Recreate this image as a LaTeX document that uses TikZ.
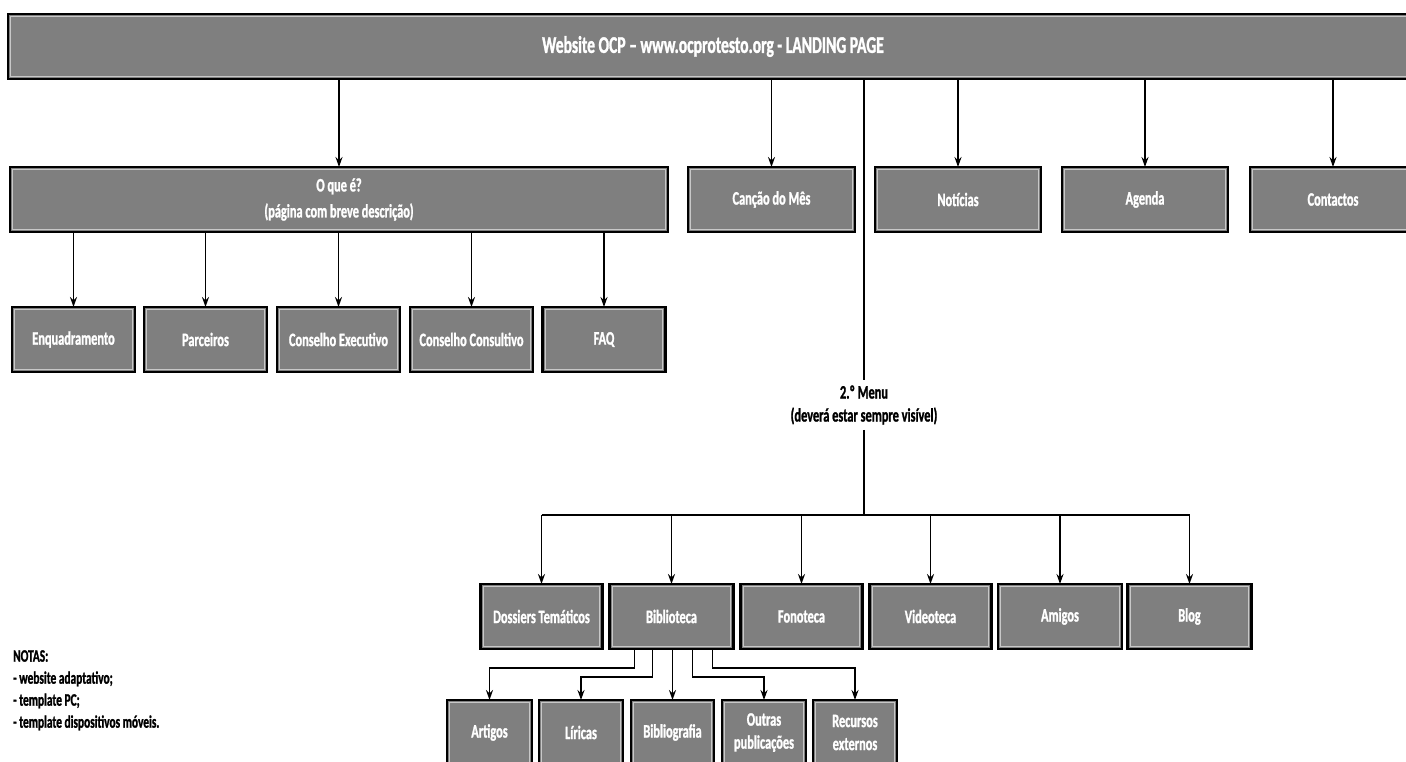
\documentclass[tikz,border=0pt]{standalone}
\usepackage{fontspec}
\newfontfamily\cf{Carlito}[FakeStretch=0.65,FakeBold=1.2]
\usetikzlibrary{arrows.meta}
\definecolor{boxgray}{HTML}{7F7F7F}
\definecolor{innergray}{HTML}{C8C8C8}
\newcommand\lblfont{\cf\bfseries\fontsize{19}{26}\selectfont}
\newcommand\twofont{\cf\bfseries\fontsize{19}{23}\selectfont}
\newcommand\bigfont{\cf\bfseries\fontsize{24}{26}\selectfont}
\newcommand\notefont{\cf\bfseries\fontsize{17.5}{22}\selectfont}
\begin{document}
\begin{tikzpicture}[x=1pt,y=-1pt,
  box/.style={draw=black,line width=2.4pt,fill=boxgray,text=white,outer sep=0pt,
    inner sep=0pt,align=center,font=\lblfont,minimum height=65pt},
  arr/.style={line width=1.6pt,-{Stealth[length=10pt,width=7pt]}},
  ln/.style={line width=1.6pt},
  innerline/.style={draw=innergray,line width=1pt}]
\useasboundingbox[fill=white] (0,0) rectangle (1406,762);

% top banner
\node[box,minimum width=1410pt,font=\bigfont] (banner) at (713,46.5)
  {Website OCP – www.ocprotesto.org - LANDING PAGE};

% second row
\node[box,minimum width=658pt] (oque) at (339,199.5)
  {O que é?\\(página com breve descrição)};
\node[box,minimum width=167pt] (canc) at (771.5,199.5) {Canção do Mês};
\node[box,minimum width=166pt] (noti) at (958,199.5) {Notícias};
\node[box,minimum width=166pt] (agen) at (1145,199.5) {Agenda};
\node[box,minimum width=166pt] (cont) at (1333,199.5) {Contactos};

% third row
\node[box,minimum width=123pt] (enq) at (73.5,339.5) {Enquadramento};
\node[box,minimum width=123pt] (parc) at (205.5,339.5) {Parceiros};
\node[box,minimum width=123pt] (cexe) at (338.5,339.5) {Conselho Executivo};
\node[box,minimum width=123pt] (ccon) at (471.5,339.5) {Conselho Consultivo};
\node[box,minimum width=123pt] (faq) at (604,339.5) {FAQ};

% menu label
\node[font=\twofont,align=center,inner sep=5pt,text=black] (menu) at (864,405)
  {2.º Menu\\(deverá estar sempre visível)};
\coordinate (bus) at (864,515);

% fourth row
\node[box,minimum width=122pt] (dos) at (541.5,616.5) {Dossiers Temáticos};
\node[box,minimum width=124pt] (bib) at (671.5,616.5) {Biblioteca};
\node[box,minimum width=122pt] (fon) at (801.5,616.5) {Fonoteca};
\node[box,minimum width=122pt] (vid) at (930.5,616.5) {Videoteca};
\node[box,minimum width=124pt] (ami) at (1060,616.5) {Amigos};
\node[box,minimum width=124pt] (blog) at (1189.5,616.5) {Blog};

% fifth row
\node[box,minimum width=85pt] (art) at (489.5,732.5) {Artigos};
\node[box,minimum width=84pt] (lir) at (581,732.5) {Líricas};
\node[box,minimum width=83pt] (bibl) at (672.5,732.5) {Bibliografia};
\node[box,minimum width=84pt,font=\twofont] (outr) at (764,732.5) {Outras\\publicações};
\node[box,minimum width=84pt,font=\twofont] (recu) at (855,732.5) {Recursos\\externos};

% inner bevel lines
\foreach \n in {banner,oque,canc,noti,agen,cont,enq,parc,cexe,ccon,faq,dos,bib,fon,vid,ami,blog,art,lir,bibl,outr,recu}
  \draw[innerline] ([shift={(2.6pt,-2.6pt)}]\n.north west) rectangle ([shift={(-2.6pt,2.6pt)}]\n.south east);

% connectors from banner
\foreach \n in {oque,canc,noti,agen,cont}
  \draw[arr] (\n.north |- banner.south) -- (\n.north);
\draw[ln] (menu.north |- banner.south) -- (menu.north);
\draw[ln] (menu.south) -- (bus);

% O que e children
\foreach \n in {enq,parc,cexe,ccon,faq}
  \draw[arr] (\n.north |- oque.south) -- (\n.north);

% menu bus
\draw[ln] (dos.north |- bus) -- (blog.north |- bus);
\foreach \n in {dos,bib,fon,vid,ami,blog}
  \draw[arr] (\n.north |- bus) -- (\n.north);

% Biblioteca children
\draw[arr] ([xshift=-37pt]bib.south) -- ++(0,19) -| (art.north);
\draw[arr] ([xshift=-19pt]bib.south) -- ++(0,28) -| (lir.north);
\draw[arr] (bibl.north |- bib.south) -- (bibl.north);
\draw[arr] ([xshift=21pt]bib.south) -- ++(0,28) -| (outr.north);
\draw[arr] ([xshift=41pt]bib.south) -- ++(0,19) -| (recu.north);

% notes
\node[font=\notefont,align=left,anchor=north west,inner sep=0pt] (notes) at (13,650)
  {NOTAS:\\ - website adaptativo;\\ - template PC;\\ - template dispositivos móveis.};
\end{tikzpicture}
\end{document}
